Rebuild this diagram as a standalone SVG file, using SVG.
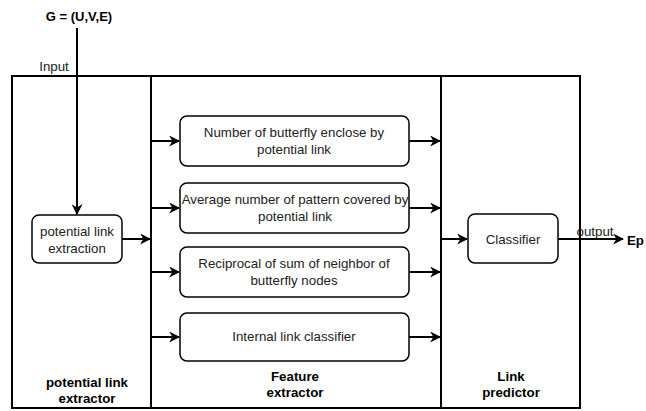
<svg xmlns="http://www.w3.org/2000/svg" width="646" height="411" viewBox="0 0 646 411">
<style>
.box{fill:#fff;stroke:#000;stroke-width:1.5}
.frame{fill:none;stroke:#000;stroke-width:2}
.ln{fill:none;stroke:#000;stroke-width:2}
text{font-family:"Liberation Sans",Arial,sans-serif;font-size:13.3px;fill:#222;text-anchor:middle}
.b{font-weight:bold;fill:#000}
</style>
<defs>
<marker id="ah" viewBox="0 0 10 10" refX="9" refY="5" markerWidth="5.5" markerHeight="5.5" orient="auto" markerUnits="strokeWidth">
<path d="M0,0 L10,5 L0,10 L3,5 z" fill="#000"/>
</marker>
</defs>
<g id="frame">
<rect class="frame" x="12" y="76" width="568" height="332"/>
<line class="frame" x1="151" y1="76" x2="151" y2="408"/>
<line class="frame" x1="441" y1="76" x2="441" y2="408"/>
</g>
<g id="labels">
<text class="b" x="79" y="21" style="font-size:13px">G = (U,V,E)</text>
<text x="54" y="71">Input</text>
<text class="b" x="87" y="387">potential link</text>
<text class="b" x="87" y="403">extractor</text>
<text class="b" x="295" y="381">Feature</text>
<text class="b" x="295" y="397">extractor</text>
<text class="b" x="511" y="381">Link</text>
<text class="b" x="511" y="397">predictor</text>
<text x="595" y="236">output</text>
<text class="b" x="627" y="245" style="text-anchor:start">Ep</text>
</g>
<g id="extraction">
<rect class="box" x="32" y="215" width="90" height="48" rx="7"/>
<text x="77" y="236">potential link</text>
<text x="77" y="253">extraction</text>
</g>
<g id="f1">
<rect class="box" x="180" y="116" width="229" height="50" rx="7"/>
<text x="294" y="137">Number of butterfly enclose by</text>
<text x="294" y="154">potential link</text>
</g>
<g id="f2">
<rect class="box" x="180" y="183" width="229" height="50" rx="7"/>
<text x="295" y="204">Average number of pattern covered by</text>
<text x="295" y="221">potential link</text>
</g>
<g id="f3">
<rect class="box" x="180" y="247" width="229" height="50" rx="7"/>
<text x="294" y="268">Reciprocal of sum of neighbor of</text>
<text x="294" y="285">butterfly nodes</text>
</g>
<g id="f4">
<rect class="box" x="180" y="313" width="229" height="48" rx="7"/>
<text x="294" y="341">Internal link classifier</text>
</g>
<g id="classifier">
<rect class="box" x="468" y="214" width="90" height="49" rx="7"/>
<text x="513" y="244">Classifier</text>
</g>
<g id="connectors">
<line class="ln" x1="77" y1="28" x2="77" y2="214" marker-end="url(#ah)"/>
<line class="ln" x1="122" y1="239" x2="150" y2="239" marker-end="url(#ah)"/>
<line class="ln" x1="151" y1="141" x2="179" y2="141" marker-end="url(#ah)"/>
<line class="ln" x1="151" y1="208" x2="179" y2="208" marker-end="url(#ah)"/>
<line class="ln" x1="151" y1="272" x2="179" y2="272" marker-end="url(#ah)"/>
<line class="ln" x1="151" y1="337" x2="179" y2="337" marker-end="url(#ah)"/>
<line class="ln" x1="409" y1="141" x2="440" y2="141" marker-end="url(#ah)"/>
<line class="ln" x1="409" y1="208" x2="440" y2="208" marker-end="url(#ah)"/>
<line class="ln" x1="409" y1="272" x2="440" y2="272" marker-end="url(#ah)"/>
<line class="ln" x1="409" y1="337" x2="440" y2="337" marker-end="url(#ah)"/>
<line class="ln" x1="441" y1="239" x2="467" y2="239" marker-end="url(#ah)"/>
<line class="ln" x1="558" y1="239" x2="623" y2="239" marker-end="url(#ah)"/>
</g>
</svg>
